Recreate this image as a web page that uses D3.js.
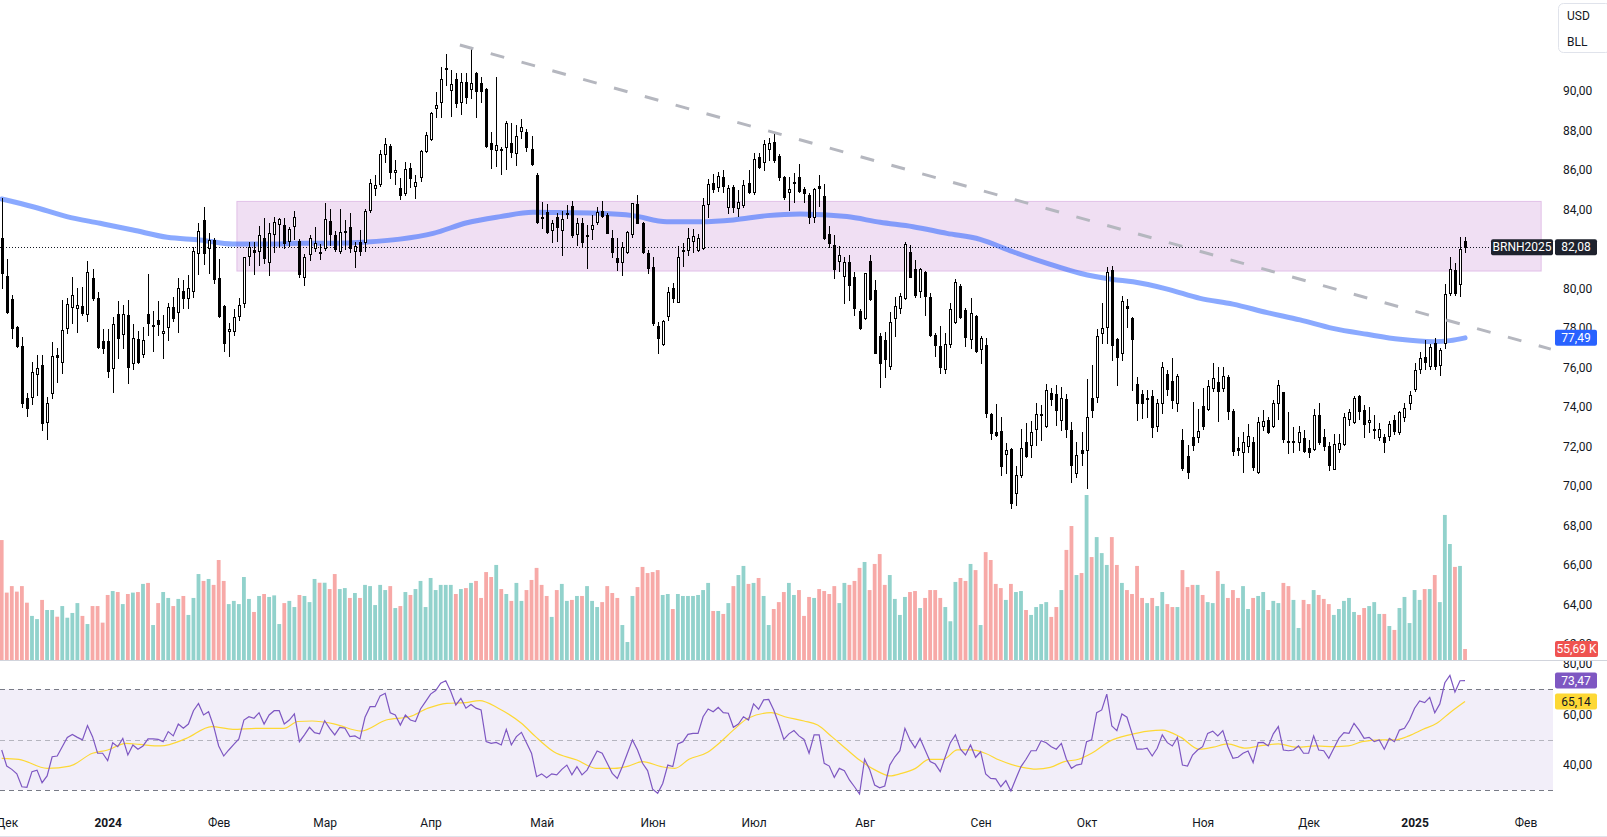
<!DOCTYPE html>
<html><head><meta charset="utf-8">
<script src="https://cdn.jsdelivr.net/npm/d3@7"></script>
<style>
html,body{margin:0;padding:0;background:#fff;overflow:hidden}
svg{display:block;font-family:Roboto,"Noto Sans",sans-serif}
</style></head><body>
<svg id="chart" width="1607" height="837"></svg>
<script>
// ---------- DATA (daily bars, index 0 = 30 Nov 2023 ... 290 = 15 Jan 2025) ----------
const symbol = "BRNH2025";
const open = [
82.53,80.62,79.46,78.04,77.09,74.43,74.51,75.64,76.12,73.21,
74.68,76.62,76.28,77.97,79.07,79.02,79.10,78.68,80.50,79.49,
77.33,77.33,75.98,78.68,77.67,78.65,76.23,77.41,76.66,78.68,
78.10,78.39,77.72,78.06,79.07,78.82,79.86,79.49,79.86,81.80,
83.46,82.02,82.44,80.50,79.10,77.84,77.85,78.60,79.24,81.63,
81.94,81.91,82.53,81.35,82.73,83.24,83.20,82.39,83.15,82.39,
80.55,81.74,82.02,81.86,82.02,83.42,82.70,81.89,82.90,83.12,
81.89,82.36,82.36,83.96,85.06,85.30,86.80,87.20,85.90,85.06,
84.81,86.11,85.20,85.62,86.95,87.54,89.15,89.42,91.14,90.04,
90.58,89.45,90.43,90.07,90.88,90.41,90.07,87.34,87.00,87.05,
87.14,87.34,86.83,87.96,87.93,87.05,85.74,83.59,83.85,82.95,
83.63,82.95,83.78,84.18,82.75,83.32,82.68,82.98,83.34,83.91,
83.71,82.56,81.52,81.31,81.86,82.73,84.25,83.29,81.77,81.06,
78.09,77.18,78.61,79.99,79.32,81.94,81.94,82.39,81.94,82.02,
84.25,85.31,85.11,85.65,84.10,85.15,84.05,84.22,85.31,84.86,
86.66,86.38,87.04,87.39,86.70,85.65,84.86,85.37,85.62,85.03,
84.72,83.59,85.18,84.67,82.75,82.19,81.40,80.62,81.35,80.59,
78.85,78.48,81.38,79.91,77.58,77.38,76.08,78.48,78.99,79.49,
81.82,80.98,79.88,80.84,79.54,77.64,77.08,75.90,77.18,78.31,
80.12,78.90,77.42,78.60,76.91,77.13,73.63,72.74,72.79,71.59,
71.86,69.62,70.55,72.24,72.07,72.86,73.60,73.04,74.68,74.63,
73.33,74.38,72.82,70.63,71.81,71.81,74.43,74.51,77.72,78.02,
80.93,77.42,76.71,79.10,78.48,75.15,74.65,74.43,74.55,73.05,
74.17,75.64,75.31,74.21,72.32,71.51,72.45,72.45,74.04,73.87,
74.94,75.24,74.94,75.53,73.80,71.91,71.69,72.03,72.20,70.71,
73.04,73.33,73.04,74.21,74.75,72.27,72.28,72.24,72.40,71.93,
71.85,73.58,72.45,72.03,70.83,71.86,72.10,73.36,73.25,74.55,
73.84,73.21,72.86,72.49,72.45,72.54,73.33,72.71,73.50,74.17,
74.88,75.91,76.54,76.08,77.21,76.12,77.21,79.75,80.93,80.22,82.41];
const high = [
84.55,81.47,79.66,78.10,77.55,74.68,76.28,76.62,76.62,74.51,
77.26,76.96,79.41,79.49,80.59,79.99,80.05,81.40,80.96,79.80,
77.92,77.92,78.56,79.37,79.15,79.41,78.19,77.85,78.06,80.72,
78.87,79.37,78.65,79.27,79.54,80.50,80.42,80.67,82.11,83.29,
84.10,82.78,82.53,81.47,79.15,78.26,78.93,79.49,81.60,82.36,
82.36,83.17,83.54,83.29,83.59,83.58,83.54,83.09,83.93,82.48,
81.74,82.70,83.12,82.24,84.30,84.00,82.92,84.00,83.46,83.80,
82.36,82.95,84.00,85.55,85.75,87.00,87.60,87.30,86.50,85.60,
86.41,86.36,85.74,87.00,87.93,88.94,89.96,91.22,91.86,91.05,
90.88,90.88,90.88,92.10,90.97,90.68,90.12,87.93,90.72,87.17,
88.49,88.35,88.27,88.57,88.05,87.73,85.82,84.35,84.25,83.46,
83.80,83.93,84.22,84.44,83.54,83.54,83.20,83.71,84.13,84.42,
83.80,82.95,82.53,82.36,82.92,84.33,84.72,83.37,81.94,81.57,
78.31,78.40,80.05,80.25,82.14,82.31,83.04,82.98,82.75,84.55,
85.52,85.79,85.91,86.00,85.23,85.23,84.98,85.48,86.00,86.87,
86.87,87.50,87.62,87.90,86.80,85.70,85.65,85.82,86.29,85.15,
84.81,85.06,85.74,85.28,83.15,82.70,82.14,81.60,81.68,80.81,
78.93,80.76,81.68,80.42,77.72,77.77,78.78,79.54,79.78,82.36,
82.19,81.43,81.01,80.90,79.78,77.72,78.11,77.72,79.24,80.47,
80.20,78.99,79.50,78.65,77.58,77.47,73.67,74.14,73.50,72.15,
71.90,71.00,72.86,73.16,73.30,74.21,74.09,75.15,74.93,75.10,
75.02,74.63,73.25,72.24,72.74,75.39,76.12,77.92,79.24,81.10,
81.13,77.47,79.61,79.44,78.55,75.49,74.85,74.85,74.85,74.38,
76.28,75.86,76.49,75.66,72.86,72.06,74.26,73.90,74.93,75.36,
76.20,76.03,76.03,75.60,73.87,72.49,72.71,73.13,72.49,73.47,
73.84,73.50,74.34,75.36,74.77,73.75,73.00,73.03,72.82,72.32,
73.87,74.21,72.87,72.20,72.60,72.60,73.67,73.90,74.55,74.62,
74.10,74.00,73.60,73.20,72.60,73.30,73.60,73.80,74.20,74.80,
76.20,76.80,77.40,77.20,77.50,77.00,80.20,81.60,81.26,82.58,82.58];
const low = [
80.00,78.73,77.50,77.01,74.01,73.55,74.14,74.60,72.83,72.35,
74.43,75.27,75.69,77.75,78.23,77.77,78.65,78.34,79.41,76.96,
76.71,75.53,74.77,76.49,76.96,75.22,75.90,76.20,76.50,77.63,
76.84,77.63,76.49,77.38,78.34,77.80,79.02,79.02,79.54,80.71,
81.23,80.76,80.25,78.56,76.84,76.59,77.63,78.39,79.04,81.18,
80.72,81.18,81.26,80.67,81.82,82.11,82.02,82.14,82.48,80.59,
80.17,81.43,81.91,81.48,81.94,82.19,81.91,81.80,81.99,81.85,
81.06,81.69,81.91,83.88,84.70,85.20,86.40,85.60,85.30,84.50,
84.72,85.15,84.55,85.45,86.92,87.51,88.69,88.69,90.29,88.72,
89.20,88.82,89.37,89.62,88.69,89.45,87.17,86.07,86.19,85.77,
86.02,86.63,86.24,87.59,86.97,86.24,83.32,83.07,82.78,82.36,
82.39,81.69,83.54,82.61,82.19,82.11,81.01,82.48,83.24,83.63,
82.78,81.57,80.93,80.67,81.77,82.61,83.29,81.77,80.76,78.14,
76.74,77.13,78.40,79.29,79.29,81.13,81.69,81.86,81.89,81.97,
83.63,84.89,84.94,84.89,83.83,83.88,83.68,84.10,84.84,84.80,
86.07,86.00,86.50,86.40,85.50,84.50,83.96,84.39,84.86,84.39,
83.29,83.37,84.17,82.51,82.11,80.50,80.89,79.27,79.41,78.65,
77.92,78.43,79.41,76.71,75.02,75.53,75.91,77.60,78.73,79.44,
80.56,79.58,79.58,78.65,77.58,76.57,75.70,75.70,77.04,78.26,
78.51,77.08,76.96,76.79,76.20,73.50,72.35,72.50,70.55,70.63,
68.86,69.03,70.46,71.47,71.47,72.07,72.32,72.99,74.09,73.08,
72.83,72.49,70.21,70.46,71.05,69.87,73.50,74.26,77.25,77.21,
76.37,75.10,76.37,78.02,74.85,73.33,73.42,73.50,72.49,72.79,
73.67,74.60,73.92,73.80,70.80,70.38,71.81,72.20,72.86,73.84,
74.82,73.30,74.82,73.38,71.56,71.56,70.71,71.69,70.80,70.66,
72.83,72.66,72.96,73.37,72.24,71.64,71.69,71.81,71.69,71.48,
71.81,72.12,71.81,70.80,70.83,71.69,72.07,73.10,73.20,73.40,
72.45,72.70,72.40,72.30,71.70,72.30,72.60,72.60,73.30,73.90,
74.80,75.70,75.90,75.90,75.90,75.60,77.00,79.66,79.66,79.61,81.86];
const close = [
80.79,78.82,77.97,77.09,74.21,73.96,75.78,75.94,73.16,74.17,
76.57,76.50,77.89,79.19,79.66,79.14,78.73,80.81,79.49,77.04,
76.96,75.83,78.18,77.50,78.68,76.03,77.50,76.28,77.38,78.23,
78.12,78.19,77.84,79.07,78.48,79.99,79.49,79.99,81.89,82.90,
81.77,82.44,80.47,78.60,77.25,77.92,78.56,79.15,81.57,82.11,
81.86,82.70,81.52,82.78,83.37,83.51,82.28,82.98,83.59,80.72,
81.60,82.56,82.31,81.78,83.49,82.73,81.97,82.87,82.92,82.02,
82.14,81.89,83.93,85.35,85.25,86.80,87.30,85.90,86.00,84.72,
86.02,85.57,85.40,86.95,87.76,88.86,89.28,90.58,91.16,90.33,
89.36,90.43,89.67,90.38,90.00,90.00,87.20,87.04,87.26,87.00,
88.35,86.92,87.71,88.15,87.14,86.29,83.37,83.54,82.83,83.29,
83.09,83.49,83.82,82.70,83.29,82.33,82.72,83.19,83.88,83.66,
82.82,81.82,81.31,82.07,82.83,84.30,83.32,81.82,81.01,78.26,
77.47,78.35,79.80,79.53,81.57,81.96,82.53,82.66,82.53,84.22,
85.28,85.01,85.69,85.18,85.06,84.13,84.39,85.23,84.89,86.55,
86.16,87.31,87.34,86.50,85.65,84.61,85.01,85.39,84.94,84.81,
83.63,85.01,85.06,82.56,82.31,80.96,81.68,81.35,80.17,78.99,
77.97,80.76,79.44,76.74,76.23,76.40,78.28,79.10,79.61,82.24,
80.59,79.66,80.96,79.61,77.64,77.13,76.00,77.18,78.94,80.34,
78.56,77.52,78.73,76.84,77.47,73.67,72.66,72.57,71.00,71.81,
69.11,70.55,71.90,71.52,72.70,73.62,73.64,74.85,74.39,73.84,
74.43,72.86,71.05,71.56,71.64,73.50,73.84,77.58,77.98,80.84,
77.13,76.50,79.36,78.99,77.42,74.17,74.17,74.45,73.00,74.21,
75.99,74.88,74.34,75.56,70.88,70.68,72.07,72.77,73.03,75.05,
75.44,74.82,75.56,73.80,71.76,71.81,72.20,72.52,70.94,73.21,
73.26,72.74,74.17,75.10,72.35,72.25,72.29,72.74,71.78,71.73,
73.58,72.24,72.03,71.05,72.10,72.15,73.47,73.75,74.43,73.80,
73.13,73.33,72.87,72.86,72.24,73.11,72.79,73.72,73.92,74.60,
75.86,76.45,76.28,77.01,76.08,76.87,79.71,80.96,79.75,81.97,82.08];
// volume, thousands of contracts
const volume = [
607,341,374,346,374,290,223,207,304,253,
253,219,273,214,238,288,223,182,273,273,
189,329,349,344,283,334,341,344,385,390,
177,288,344,314,273,309,324,228,314,435,
400,410,380,506,400,283,299,283,420,309,
243,324,334,319,327,182,288,299,268,329,
324,293,410,391,391,359,435,359,364,314,
339,314,380,374,278,380,354,374,263,273,
344,329,359,400,268,415,354,380,380,380,
334,359,364,390,400,314,445,420,481,359,
334,299,390,299,354,405,466,380,324,218,
354,385,299,304,324,324,374,299,268,293,
374,339,314,177,91,324,369,471,440,445,
455,329,334,258,334,324,324,324,329,354,
390,248,248,233,288,374,430,476,385,390,
415,324,177,258,293,344,390,329,354,223,
319,314,359,349,334,374,288,390,380,400,
466,496,354,486,536,380,430,309,228,319,
344,349,263,314,354,354,314,268,196,395,
415,400,486,455,177,546,506,385,364,304,
385,344,349,253,228,268,283,293,218,268,
354,557,678,430,440,835,521,622,541,481,
622,481,390,354,334,476,314,288,314,273,
344,283,268,268,455,369,380,380,329,293,
288,450,385,314,354,314,374,258,314,324,
344,253,299,288,390,374,304,162,304,283,
354,329,309,283,228,258,299,314,243,228,
263,273,293,233,233,172,152,263,319,187,
354,304,359,359,430,293,734,587,471,476,55.69];
// RSI(14)
const rsi = [
45.9,39.5,38.2,36.4,31.3,31.1,37.3,37.9,32.9,35.6,
43.2,43.5,47.2,50.9,52.1,50.9,49.9,55.6,51.2,44.6,
44.6,41.7,48.8,47.2,50.5,43.9,47.9,46.2,47.5,50.3,
50.3,50.1,49.2,53.2,51.5,56.2,54.5,56.2,61.5,64.4,
59.8,61.1,55.4,47.5,43.5,45.9,48.1,50.3,57.8,59.1,
58.5,60.7,56.2,59.8,61.5,61.5,56.2,57.8,60.2,49.2,
51.9,54.9,52.8,52.3,57.5,54.5,51.9,54.9,54.6,51.2,
51.5,50.3,58.9,63.1,63.1,67.4,68.4,60.7,59.8,55.8,
59.8,57.8,57.2,62.2,65.1,68.1,69.5,72.4,73.4,69.1,
63.8,66.4,62.5,64.0,62.5,61.8,49.2,48.5,48.9,47.9,
54.1,47.9,51.2,52.9,48.8,44.6,35.3,36.4,34.9,36.4,
36.0,38.2,39.9,36.0,39.3,36.0,37.9,41.7,45.5,44.6,
40.6,36.6,34.6,39.3,44.6,49.9,45.9,40.6,37.7,30.3,
28.7,32.6,39.9,39.3,48.3,49.2,52.1,52.5,52.5,59.1,
62.2,61.1,62.8,60.7,60.5,54.9,56.2,59.1,57.8,64.2,
62.1,65.8,66.0,61.8,56.2,50.1,52.3,53.6,51.5,50.1,
44.6,51.9,51.9,40.6,39.5,35.0,38.6,37.7,34.0,31.3,
28.4,42.2,38.2,32.0,30.9,31.6,39.9,43.2,45.6,54.5,
49.9,46.8,50.5,45.9,41.3,40.3,37.3,43.2,48.8,51.9,
46.2,43.9,47.9,43.0,45.2,36.4,34.6,34.4,31.3,33.7,
29.6,34.6,39.3,42.2,45.6,45.6,49.6,48.8,47.2,46.2,
48.5,42.2,38.6,39.9,40.3,49.2,49.9,60.7,61.8,68.1,
55.4,53.6,60.2,58.9,52.5,46.2,46.2,46.6,43.5,46.6,
51.9,48.8,47.5,50.9,39.9,39.5,43.9,45.9,47.2,52.5,
53.4,51.5,53.6,47.2,42.6,43.0,44.6,45.5,40.9,48.8,
48.9,47.5,52.3,55.2,45.9,45.6,45.9,47.5,44.6,44.6,
51.5,45.9,45.6,42.6,46.6,50.5,52.8,52.5,56.5,53.8,
50.5,50.9,49.2,49.9,46.2,50.5,49.2,53.8,54.5,57.8,
62.5,65.4,64.7,66.8,60.7,64.2,72.6,75.5,68.9,73.4,73.47];
// RSI moving average (read at these bar positions)
const rsiMaIdx = [0,3.4,9,13.5,18,21,24.6,27.3,31.5,36.6,41.6,45.8,50.4,55.9,58.7,61.5,66,71.2,76.2,80.8,84.5,88.2,91.9,94.7,98.4,103,105.8,109.4,114,117.8,121.4,124.2,127,130.7,133.4,136.2,139.9,142.3,145.1,147.9,152.5,155.2,159,161.7,164.5,167.2,170,173.7,176,178.3,181.1,183.8,186.6,189.4,192.2,194.9,197.7,202.3,205,207.8,210.6,213.4,216,219.8,223.5,227.2,230,233.7,237.3,240.1,242.9,246.6,249.3,253,256.7,260.4,264.1,266.9,269.6,273.3,276,278.9,281.7,284.4,287,290];
const rsiMaVal = [42.6,42.2,38.6,39.5,44.6,45.9,48.5,48.1,47.5,50.5,55.2,54.1,54.5,54.5,57.2,57.4,56.2,53.4,57.8,59.1,62.5,64.4,64.7,65.5,62.5,56.5,51.2,45.2,41.9,38.6,38.6,39.5,41.3,39.3,38.6,42.2,45.0,48.8,54.0,58.5,60.7,59.1,57.4,55.8,51.2,46.6,41.9,37.3,35.6,36.6,38.6,42.2,42.2,45.9,45.9,44.6,41.9,39.0,38.3,39.0,41.3,42.2,44.6,49.6,51.9,53.4,53.8,50.9,46.2,47.0,48.3,46.6,47.5,48.3,47.0,47.5,47.2,47.5,49.2,49.9,49.9,51.5,54.1,56.5,60.7,65.14];
// long moving average on price (read at these bar positions)
const maIdx = [0,6.2,12.9,19.5,26,32.8,39.3,45.8,52.6,59.1,65.7,72.4,78.9,85.5,92.2,98.8,105.3,112,118.6,125.1,131.8,138.4,145,151.7,158.2,167.5,174.1,180.6,187.3,193.9,200.4,207.2,213.7,220.2,224.2,231,237.5,244,250.8,257.3,263.8,270.6,277.1,283.7,287,290];
const maVal = [84.52,84.13,83.63,83.29,82.95,82.58,82.45,82.24,82.24,82.28,82.28,82.34,82.49,82.78,83.32,83.63,83.85,83.83,83.80,83.68,83.37,83.37,83.46,83.68,83.76,83.63,83.34,83.12,82.78,82.48,81.85,81.26,80.76,80.45,80.33,79.96,79.49,79.20,78.77,78.40,77.97,77.67,77.42,77.30,77.35,77.49];
// drawings: range rectangle and descending trend line (bar index / price)
const zoneIdx = [46.6, 305.1];
const zonePrice = [84.40, 80.87];
const trendIdx = [90.8, 307];
const trendPrice = [92.32, 76.92];
// axes
const priceTicks = [62,64,66,68,70,72,74,76,78,80,82,84,86,88,90];
const rsiTicks = [40,60,80];
const monthIdx = [1,21,43,64,85,107,129,149,171,194,215,238,259,280,302];
const monthLabels = ["Дек","2024","Фев","Мар","Апр","Май","Июн","Июл","Авг","Сен","Окт","Ноя","Дек","2025","Фев"];
const unitLabels = ["USD","BLL"];

// ---------- DRAW ----------
const svg = d3.select("#chart");
const loc = d3.formatLocale({decimal:",", thousands:"\u00a0", grouping:[3], currency:["",""]});
const f2 = loc.format(".2f");
const N = close.length;
const plotRight = 1553;
const sepY = 660.5;

const x = d3.scaleLinear().domain([0,290]).range([1.7, 1465.04]);
const y = d3.scaleLinear().domain([80,90]).range([288.3, 90.8]);
const yVol = d3.scaleLinear().domain([0,835]).range([660, 495]);
const yRsi = d3.scaleLinear().domain([30,70]).range([790, 689.3]);

const defs = svg.append("defs");
defs.append("clipPath").attr("id","clipP").append("rect").attr("x",0).attr("y",0).attr("width",plotRight).attr("height",sepY);
defs.append("clipPath").attr("id","clipR").append("rect").attr("x",0).attr("y",sepY+0.5).attr("width",plotRight).attr("height",140);
defs.append("clipPath").attr("id","clipAxP").append("rect").attr("x",plotRight).attr("y",0).attr("width",60).attr("height",sepY);
defs.append("clipPath").attr("id","clipAxR").append("rect").attr("x",plotRight).attr("y",sepY+0.5).attr("width",60).attr("height",140);

svg.append("rect").attr("width",1607).attr("height",837).attr("fill","#fff");

const gP = svg.append("g").attr("clip-path","url(#clipP)");
// zone rectangle
gP.append("rect")
  .attr("x", x(zoneIdx[0])).attr("y", y(zonePrice[0]))
  .attr("width", x(zoneIdx[1]) - x(zoneIdx[0])).attr("height", y(zonePrice[1]) - y(zonePrice[0]))
  .attr("fill","rgba(156,39,176,0.15)").attr("stroke","rgba(156,39,176,0.22)").attr("stroke-width",1);

const idx = d3.range(N);
const up = i => close[i] >= open[i];
// volume
gP.append("g").selectAll("rect").data(idx).join("rect")
  .attr("x", i => x(i) - 1.9).attr("width", 3.8)
  .attr("y", i => yVol(volume[i])).attr("height", i => yVol(0) - yVol(volume[i]))
  .attr("fill", i => up(i) ? "rgba(38,166,154,0.5)" : "rgba(239,83,80,0.5)");

// last price dotted line
const lastY = Math.round(y(close[N-1])) + 0.5;
gP.append("line").attr("x1",0).attr("x2",1490).attr("y1",lastY).attr("y2",lastY)
  .attr("stroke","#131722").attr("stroke-width",1).attr("stroke-dasharray","1 2");

// moving average
const maPts = maIdx.map((d,k)=>[d, maVal[k]]);
gP.append("path").datum(maPts)
  .attr("d", d3.line().x(d=>x(d[0])).y(d=>y(d[1])).curve(d3.curveMonotoneX))
  .attr("fill","none").attr("stroke","#2962ff").attr("stroke-opacity",0.55)
  .attr("stroke-width",5).attr("stroke-linecap","round");

// candles
const px = i => Math.round(x(i)) + 0.5;
const gC = gP.append("g");
gC.selectAll("line").data(idx).join("line")
  .attr("x1", px).attr("x2", px)
  .attr("y1", i => Math.round(y(high[i]))).attr("y2", i => Math.round(y(low[i])) + 1)
  .attr("stroke","#000").attr("stroke-width",1);
gC.selectAll("rect").data(idx).join("rect")
  .attr("x", i => px(i) - 1).attr("width", 2)
  .attr("y", i => Math.round(y(Math.max(open[i],close[i]))) + 0.5)
  .attr("height", i => Math.max(1, Math.round(y(Math.min(open[i],close[i]))) - Math.round(y(Math.max(open[i],close[i])))))
  .attr("fill", i => up(i) ? "#fff" : "#000").attr("stroke","#000").attr("stroke-width",1);

// trend line
gP.append("line")
  .attr("x1", x(trendIdx[0])).attr("y1", y(trendPrice[0]))
  .attr("x2", x(trendIdx[1])).attr("y2", y(trendPrice[1]))
  .attr("stroke","#b5b7bf").attr("stroke-width",3).attr("stroke-dasharray","14 18");

// ---------- RSI pane ----------
const gR = svg.append("g").attr("clip-path","url(#clipR)");
gR.append("rect").attr("x",0).attr("width",plotRight)
  .attr("y", yRsi(70)).attr("height", yRsi(30) - yRsi(70))
  .attr("fill","rgba(126,87,194,0.1)");
[[70,1],[50,0.5],[30,1]].forEach(([v,o])=>{
  const yy = Math.round(yRsi(v)) + 0.5;
  gR.append("line").attr("x1",0).attr("x2",plotRight).attr("y1",yy).attr("y2",yy)
    .attr("stroke","#787b86").attr("stroke-opacity",o).attr("stroke-dasharray","5 4");
});
gR.append("path").datum(rsiMaIdx.map((d,k)=>[d, rsiMaVal[k]]))
  .attr("d", d3.line().x(d=>x(d[0])).y(d=>yRsi(d[1])).curve(d3.curveMonotoneX))
  .attr("fill","none").attr("stroke","#fdd835").attr("stroke-width",1.2);
gR.append("path").datum(idx)
  .attr("d", d3.line().x(i=>x(i)).y(i=>yRsi(rsi[i])))
  .attr("fill","none").attr("stroke","#7e57c2").attr("stroke-width",1.2);

// separators
svg.append("line").attr("x1",0).attr("x2",1607).attr("y1",sepY).attr("y2",sepY).attr("stroke","#d1d4dc");
svg.append("line").attr("x1",0).attr("x2",1607).attr("y1",836.5).attr("y2",836.5).attr("stroke","#e0e3eb");

// ---------- axes ----------
function styleAxis(g){
  g.select(".domain").remove();
  g.selectAll("text").attr("font-size",12).attr("font-family","Roboto,'Noto Sans',sans-serif").attr("fill","#131722");
}
svg.append("g").attr("clip-path","url(#clipAxP)").append("g").attr("transform","translate(1560,0)")
  .call(d3.axisRight(y).tickValues(priceTicks).tickSize(0).tickPadding(3).tickFormat(f2)).call(styleAxis);
svg.append("g").attr("clip-path","url(#clipAxR)").append("g").attr("transform","translate(1560,0)")
  .call(d3.axisRight(yRsi).tickValues(rsiTicks).tickSize(0).tickPadding(3).tickFormat(f2)).call(styleAxis);
const gX = svg.append("g").attr("transform","translate(0,823)")
  .call(d3.axisBottom(x).tickValues(monthIdx).tickSize(0).tickPadding(0).tickFormat((d,k)=>monthLabels[k]))
  .call(styleAxis);
gX.selectAll("text").attr("y",0).attr("dy","0.35em")
  .attr("font-weight", d => /^\d{4}$/.test(monthLabels[monthIdx.indexOf(d)]) ? "bold" : "normal");

// ---------- value labels ----------
function tag(x0, yc, w, txt, bg, fg){
  const g = svg.append("g");
  g.append("rect").attr("x",x0).attr("y",yc-8).attr("width",w).attr("height",16).attr("rx",2).attr("fill",bg);
  g.append("text").attr("x",x0+w/2).attr("y",yc).attr("dy","0.35em").attr("text-anchor","middle")
    .attr("font-size",12).attr("fill",fg).text(txt);
}
const lastClose = close[N-1];
tag(1491, y(lastClose), 62, symbol, "#1e222d", "#fff");
tag(1555, y(lastClose), 42, f2(lastClose), "#1e222d", "#fff");
tag(1555, y(maVal[maVal.length-1]), 42, f2(maVal[maVal.length-1]), "#2962ff", "#fff");
tag(1555, yVol(volume[N-1]), 43, f2(volume[N-1]) + " K", "#ef5350", "#fff");
tag(1555, yRsi(rsi[N-1]), 42, f2(rsi[N-1]), "#7e57c2", "#fff");
tag(1555, yRsi(rsiMaVal[rsiMaVal.length-1]), 42, f2(rsiMaVal[rsiMaVal.length-1]), "#fdd835", "#131722");

// unit box
const ub = svg.append("g");
ub.append("rect").attr("x",1558.5).attr("y",3.5).attr("width",52).attr("height",49).attr("rx",5)
  .attr("fill","#fff").attr("stroke","#e0e3eb");
unitLabels.forEach((t,k)=>{
  ub.append("text").attr("x",1567).attr("y",16 + k*26).attr("dy","0.35em")
    .attr("font-size",12).attr("fill","#131722").text(t);
});
</script>
</body></html>
